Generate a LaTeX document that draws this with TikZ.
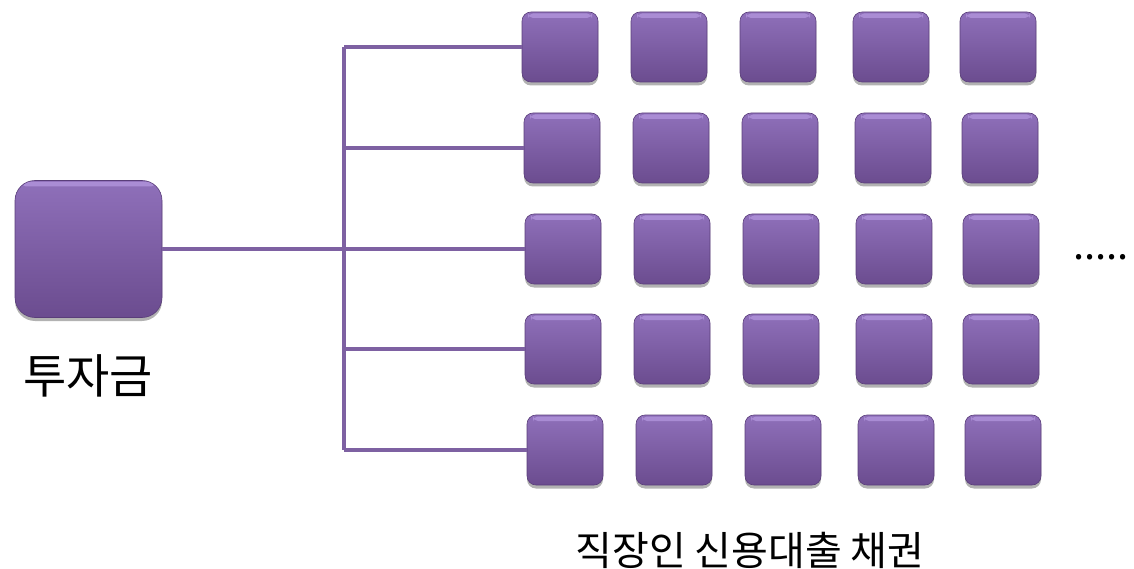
\documentclass[tikz,border=0pt]{standalone}
\usepackage{fontspec}
\newfontfamily\kr{Noto Sans CJK KR}
\usetikzlibrary{shadows}
\definecolor{boxtop}{HTML}{8F70BA}
\definecolor{boxmid}{HTML}{7C5CA4}
\definecolor{boxbot}{HTML}{6B4C8F}
\definecolor{boxedge}{HTML}{5A3E7A}
\definecolor{boxrim}{HTML}{C2A6EC}
\definecolor{wire}{HTML}{7E61A2}
\tikzset{
  cellbox/.style={rounded corners=9, minimum width=76, minimum height=70, inner sep=0,
    top color=boxtop, middle color=boxmid, bottom color=boxbot, draw=boxedge, line width=0.6,
    drop shadow={shadow xshift=0pt, shadow yshift=-3.5pt, opacity=0.3, fill=black},
    path picture={\fill[boxrim,opacity=0.55,rounded corners=5]
      ([xshift=6pt,yshift=-1.5pt]path picture bounding box.north west) rectangle
      ([xshift=-6pt,yshift=-6pt]path picture bounding box.north east);}},
  bigbox/.style={cellbox, rounded corners=20, minimum width=147, minimum height=137},
  wireline/.style={draw=wire, line width=3.5},
  lbl/.style={font=\kr\fontsize{40}{40}\selectfont, inner sep=0}
}
\begin{document}
\begin{tikzpicture}[x=1pt,y=-1pt]
\useasboundingbox (0,0) rectangle (1134,569);
\node[bigbox] (big) at (88.5,249) {};
% grid of cells
\foreach \r/\y/\dx in {1/47/0,2/148/2,3/249/3,4/349/3,5/450/5}{
  \foreach \c/\x in {1/560,2/669,3/778,4/891,5/998}{
    \node[cellbox] (r\r c\c) at (\x+\dx,\y) {};
  }
  \coordinate (j\r) at (344,\y);
}
\draw[wireline] (big.east) -- (j3);
\draw[wireline] (j1) -- (j5);
\foreach \r in {1,...,5}{
  \draw[wireline] (j\r) -- (r\r c1.west);
}
\node[lbl, font=\kr\fontsize{47}{47}\selectfont] (inv) at (88,376) {투자금};
\node[lbl] (bond) at (750,550) {직장인 신용대출 채권};
\node[lbl, anchor=base] (dots) at (1101,259) {.....};
\end{tikzpicture}
\end{document}
